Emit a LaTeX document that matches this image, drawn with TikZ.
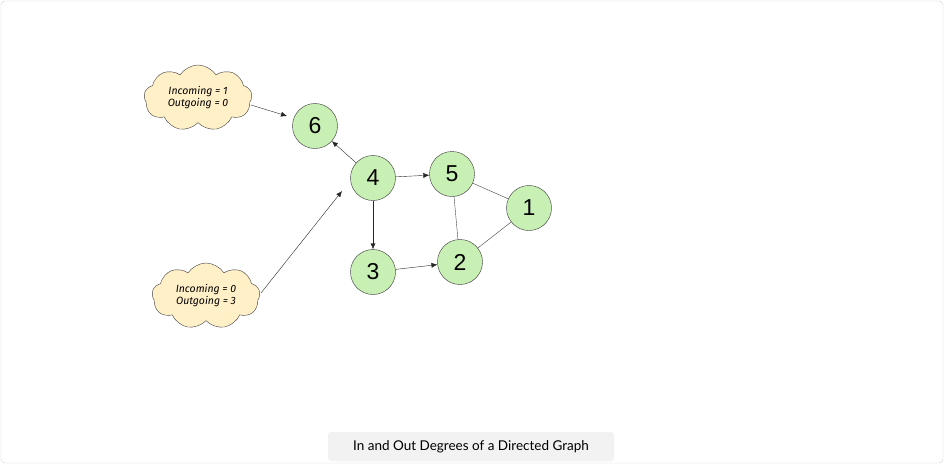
\documentclass[tikz,border=0pt]{standalone}
\usepackage{fontspec}
\setmainfont{Liberation Sans}
\newfontfamily\capfont{Lato}
\newfontfamily\notefont{Fira Sans}
\usetikzlibrary{shapes.symbols,arrows.meta}
\definecolor{vfill}{HTML}{C8F0B4}
\definecolor{cloudfill}{HTML}{FFF0C8}
\definecolor{framegray}{HTML}{D0D0D0}
\definecolor{capgray}{HTML}{F2F2F2}
\begin{document}
\begin{tikzpicture}[x=1pt,y=-1pt,
    vert/.style={circle, draw=black!80, fill=vfill, minimum size=45pt, inner sep=0pt, font=\fontsize{23}{23}\selectfont},
    note/.style={cloud, cloud puffs=9, cloud puff arc=115, aspect=1.65, draw=black!75, fill=cloudfill, minimum width=108pt, minimum height=66pt, inner sep=0pt, align=center, font=\notefont\itshape\fontsize{10.5}{12}\selectfont},
    arc/.style={-{Latex[length=6pt,width=5pt]}, black!85, thin},
    link/.style={black!75, thin}]
    \useasboundingbox (0,0) rectangle (946,464);
    \draw[framegray, rounded corners=4pt] (1,1) rectangle (943,463);
    \fill[capgray, rounded corners=3pt] (328,432) rectangle (614,461);
    \node [font=\capfont\fontsize{13.5}{13.5}\selectfont] (cap) at (471,447) {In and Out Degrees of a Directed Graph};

    \node [vert] (v6) at (315,126) {6};
    \node [vert] (v4) at (373,178) {4};
    \node [vert] (v5) at (452,174) {5};
    \node [vert] (v1) at (529,208) {1};
    \node [vert] (v2) at (460,262) {2};
    \node [vert] (v3) at (373,272) {3};

    \node [note] (n6) at (198,98) {Incoming = 1\\Outgoing = 0};
    \node [note] (n4) at (206,296) {Incoming = 0\\Outgoing = 3};
    \coordinate (s6) at (251,105);
    \coordinate (t6) at (287,116);
    \coordinate (s4) at (261,293);
    \coordinate (t4) at (342,191);

    \draw [arc] (v4) -- (v6);
    \draw [arc] (v4) -- (v5);
    \draw [arc] (v4) -- (v3);
    \draw [arc] (v3) -- (v2);
    \draw [link] (v5) -- (v1);
    \draw [link] (v5) -- (v2);
    \draw [link] (v2) -- (v1);

    \draw [arc] (s6) -- (t6);
    \draw [arc] (s4) -- (t4);
\end{tikzpicture}
\end{document}
